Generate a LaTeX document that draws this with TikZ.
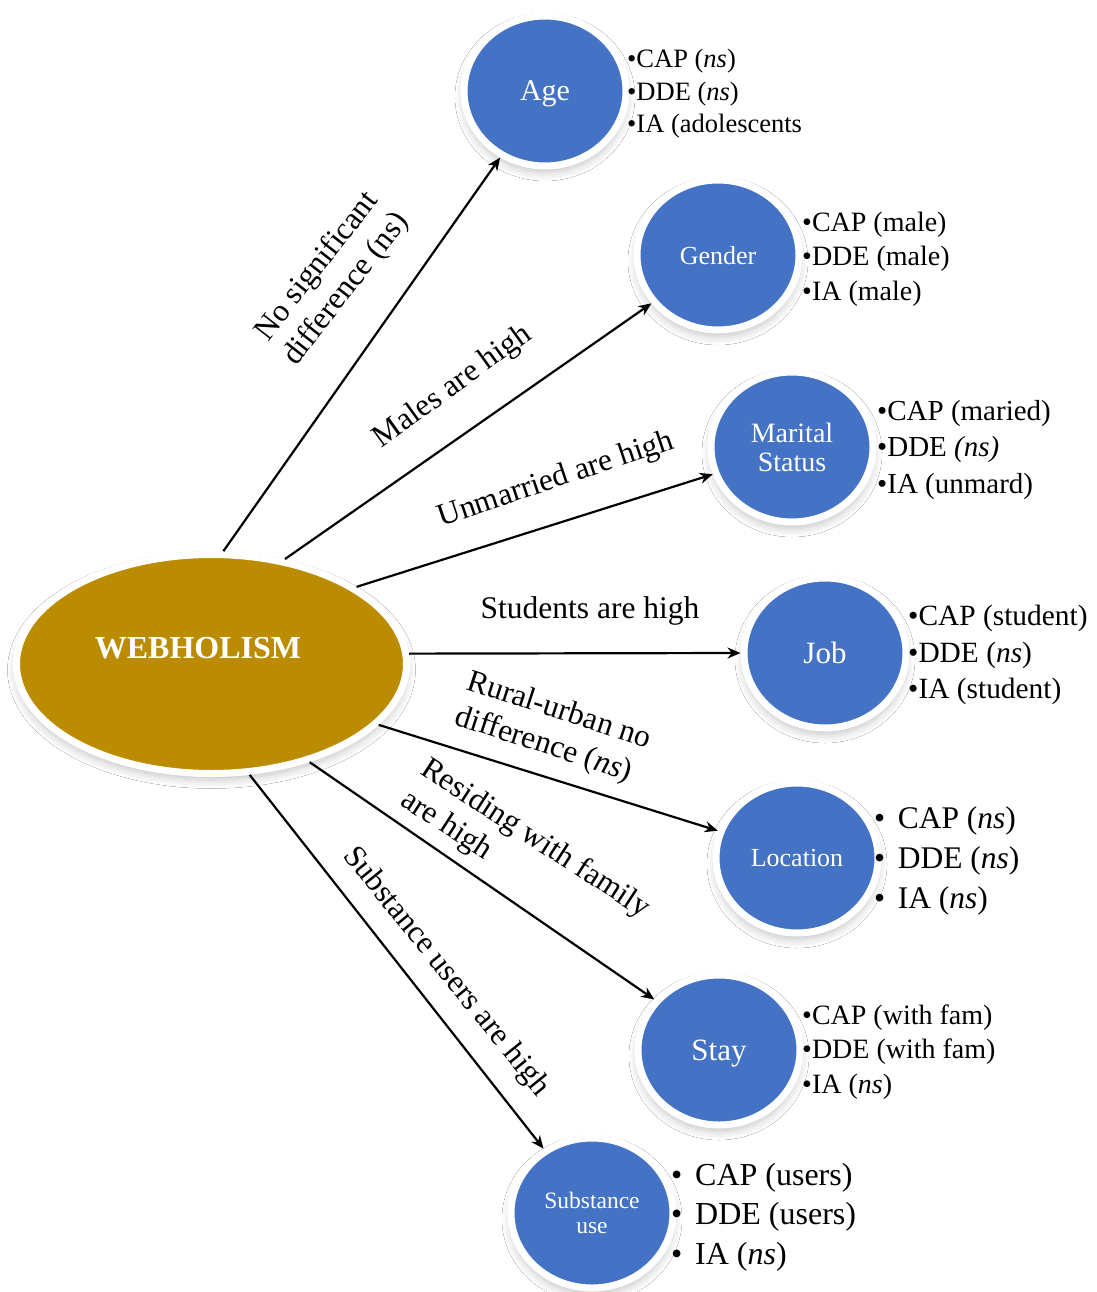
\documentclass[tikz,border=0pt]{standalone}
\usepackage{fontspec}
\setmainfont{Liberation Serif}
\usetikzlibrary{shapes.geometric,arrows.meta,shadows.blur}

\definecolor{nodeblue}{RGB}{68,114,196}
\definecolor{blueedge}{RGB}{44,78,140}
\definecolor{nodegold}{RGB}{188,140,0}
\definecolor{goldedge}{RGB}{130,96,0}

% bevelled fills: flat colour with a darker rim near the border
\pgfdeclareradialshading{bluebevel}{\pgfpoint{0bp}{0bp}}{%
  color(0bp)=(nodeblue); color(41bp)=(nodeblue); color(46bp)=(blueedge); color(50bp)=(blueedge)}
\pgfdeclareradialshading{goldbevel}{\pgfpoint{0bp}{0bp}}{%
  color(0bp)=(nodegold); color(43.5bp)=(nodegold); color(48bp)=(goldedge); color(50bp)=(goldedge)}

\tikzset{
  softshadow/.style={blur shadow={shadow xshift=0pt, shadow yshift=-6pt,
      shadow blur radius=9pt, shadow opacity=25}},
  factor/.style={ellipse, inner sep=0pt, minimum width=162pt, minimum height=150pt,
      draw=white, line width=7pt, shade, shading=bluebevel, text=white,
      text depth=0pt, softshadow},
  hub/.style={ellipse, inner sep=0pt, minimum width=390pt, minimum height=219pt,
      draw=white, line width=7pt, shade, shading=goldbevel, softshadow},
  link/.style={line width=2.2pt, -{Stealth[length=13pt, width=11pt]}},
  lst/.style={anchor=west, align=left, inner sep=0pt},
  lab/.style={inner sep=0pt, font=\fontsize{31.5}{37}\selectfont},
}

\begin{document}
\begin{tikzpicture}[x=1pt, y=-1pt]
\fill[white] (0,0) rectangle (1096,1292);
\useasboundingbox (0,0) rectangle (1096,1292);

% central construct
\node[hub] (web) at (211.5,664) {};
\node[text=white, font=\fontsize{32}{32}\selectfont\bfseries] (webtext) at (198,648) {WEBHOLISM};

% socio-demographic factors
\node[factor, font=\fontsize{30}{30}\selectfont] (age) at (545,91) {Age};
\node[factor, font=\fontsize{26}{26}\selectfont] (gender) at (718,255) {Gender};
\node[factor, font=\fontsize{28}{29}\selectfont, align=center] (marital) at (792,447) {Marital\\Status};
\node[factor, font=\fontsize{31}{31}\selectfont] (job) at (825,653) {Job};
\node[factor, font=\fontsize{26}{26}\selectfont] (location) at (797,858) {Location};
\node[factor, font=\fontsize{31}{31}\selectfont] (stay) at (719,1050) {Stay};
\node[factor, font=\fontsize{23.5}{25}\selectfont, align=center] (substance) at (592,1213) {Substance\\use};

% connectors
\draw[link] (web.84)  -- (age.236);
\draw[link] (web.55)  -- (gender.216);
\draw[link] (web.28)  -- (marital.199);
\draw[link] (web.3)   -- (job.180);
\draw[link] (web.340) -- (location.161);
\draw[link] (web.315) -- (stay.142);
\draw[link] (web.289) -- (substance.127);

% connector labels
\node[lab, rotate=52, align=center] (labage) at (332,278) {No significant\\difference (ns)};
\node[lab, rotate=36] (labgender) at (453,387) {Males are high};
\node[lab, rotate=18.5] (labmarital) at (556,480) {Unmarried are high};
\node[lab] (labjob) at (590,611) {Students are high};
\node[lab, rotate=-18, align=left] (labloc) at (553,729) {Rural-urban no\\difference (\textit{ns})};
\node[lab, rotate=-33, align=left] (labstay) at (525,855) {Residing with family\\are high};
\node[lab, rotate=-51] (labsub) at (446,972) {Substance users are high};

% outcome lists
\node[lst, font=\fontsize{26.5}{32.5}\selectfont] (agelist) at (627,94)
  {\textbullet CAP (\textit{ns})\\\textbullet DDE (\textit{ns})\\\textbullet IA (adolescents};
\node[lst, font=\fontsize{28}{34.5}\selectfont] (genderlist) at (802,259)
  {\textbullet CAP (male)\\\textbullet DDE (male)\\\textbullet IA (male)};
\node[lst, font=\fontsize{29}{36.5}\selectfont] (maritallist) at (877,450)
  {\textbullet CAP (maried)\\\textbullet DDE \textit{(ns)}\\\textbullet IA (unmard)};
\node[lst, font=\fontsize{29.4}{36.5}\selectfont] (joblist) at (908,655)
  {\textbullet CAP (student)\\\textbullet DDE (\textit{ns})\\\textbullet IA (student)};
\node[lst, font=\fontsize{31.5}{40}\selectfont] (locationlist) at (874,861)
  {\textbullet\hspace{0.4em}CAP (\textit{ns})\\\textbullet\hspace{0.4em}DDE (\textit{ns})\\\textbullet\hspace{0.4em}IA (\textit{ns})};
\node[lst, font=\fontsize{28}{34.5}\selectfont] (staylist) at (802,1052)
  {\textbullet CAP (with fam)\\\textbullet DDE (with fam)\\\textbullet IA (\textit{ns})};
\node[lst, font=\fontsize{32}{39.5}\selectfont] (substancelist) at (671,1217)
  {\textbullet\hspace{0.4em}CAP (users)\\\textbullet\hspace{0.4em}DDE (users)\\\textbullet\hspace{0.4em}IA (\textit{ns})};
\end{tikzpicture}
\end{document}
